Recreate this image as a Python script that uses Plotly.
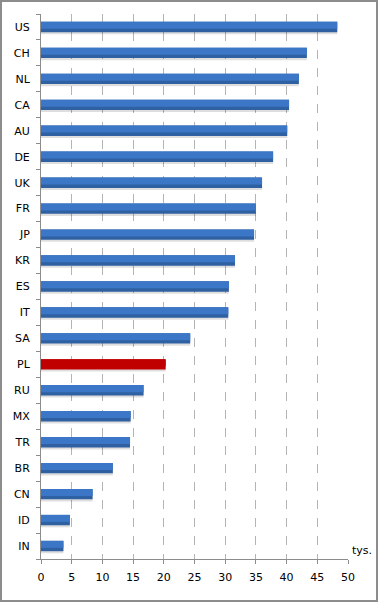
import plotly.graph_objects as go

countries = ["US", "CH", "NL", "CA", "AU", "DE", "UK", "FR", "JP", "KR", "ES",
             "IT", "SA", "PL", "RU", "MX", "TR", "BR", "CN", "ID", "IN"]
values = [48.25, 43.3, 42.0, 40.4, 40.1, 37.8, 36.0, 35.0, 34.7, 31.6, 30.6,
          30.5, 24.3, 20.3, 16.7, 14.6, 14.5, 11.7, 8.4, 4.7, 3.65]
highlight = "PL"
x_ticks = [0, 5, 10, 15, 20, 25, 30, 35, 40, 45, 50]
unit_label = "tys."

dark_colors = ["#C00000" if c == highlight else "#2F60A2" for c in countries]
light_colors = ["#C00000" if c == highlight else "#3B77C6" for c in countries]

W, H = 378, 602
ml, mr, mt, mb = 41, 30, 14, 43

fig = go.Figure()
# soft shadow below bars
fig.add_trace(go.Bar(
    x=values, y=countries, orientation="h",
    marker=dict(color="rgba(0,0,0,0.13)", line=dict(width=0)),
    width=0.40, offset=-0.28, hoverinfo="skip", showlegend=False,
))
# darker lower part of the bar
fig.add_trace(go.Bar(
    x=values, y=countries, orientation="h",
    marker=dict(color=dark_colors, line=dict(width=0)),
    width=0.40, offset=-0.20, showlegend=False,
))
# lighter upper part of the bar
fig.add_trace(go.Bar(
    x=values, y=countries, orientation="h",
    marker=dict(color=light_colors, line=dict(width=0)),
    width=0.27, offset=-0.07, hoverinfo="skip", showlegend=False,
))

fig.update_layout(
    width=W, height=H,
    margin=dict(l=ml, r=mr, t=mt, b=mb, autoexpand=False),
    paper_bgcolor="white", plot_bgcolor="white",
    barmode="overlay",
    font=dict(family="DejaVu Sans", size=11, color="#000000"),
    xaxis=dict(
        range=[0, 50], tickvals=x_ticks, ticktext=[str(t) for t in x_ticks],
        showgrid=True, gridcolor="#B4B4B4", griddash="dash", gridwidth=1,
        showline=True, linecolor="#8C8C8C", linewidth=1,
        ticks="outside", ticklen=4, tickcolor="#8C8C8C",
        ticklabelstandoff=4,
        zeroline=False, fixedrange=True, automargin=False,
    ),
    yaxis=dict(
        categoryorder="array", categoryarray=countries[::-1],
        autorange=False, range=[-0.5, len(countries) - 0.5],
        showline=True, linecolor="#8C8C8C", linewidth=1,
        ticks="outside", ticklen=4, tickcolor="#8C8C8C", tickson="boundaries",
        ticklabelstandoff=8, showgrid=False, fixedrange=True, automargin=False,
    ),
    annotations=[dict(
        text=unit_label, xref="paper", yref="paper", x=1.005, y=0,
        xanchor="left", yanchor="bottom", showarrow=False,
        font=dict(size=11, color="#000000"),
    )],
)

pw = W - ml - mr
ph = H - mt - mb
fig.add_shape(type="rect", xref="paper", yref="paper",
              x0=(-ml + 1) / pw, x1=(pw + mr - 1) / pw,
              y0=(-mb + 1) / ph, y1=(ph + mt - 1) / ph,
              line=dict(color="#8C8C8C", width=2), layer="above")

fig.write_html("out.html", config={"displayModeBar": False},
               post_script="document.body.style.margin='0';document.body.style.overflow='hidden';")
